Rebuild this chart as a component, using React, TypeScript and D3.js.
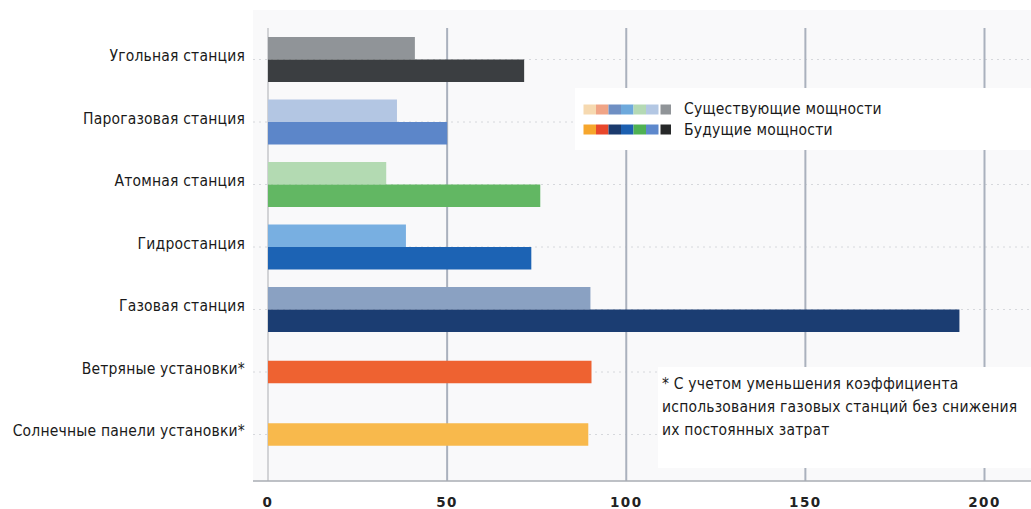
import React from "react";
import * as d3 from "d3";

const categories = [
  "Угольная станция",
  "Парогазовая станция",
  "Атомная станция",
  "Гидростанция",
  "Газовая станция",
  "Ветряные установки*",
  "Солнечные панели установки*",
];
const existingValues: (number | null)[] = [41, 36, 33, 38.5, 90, null, null];
const futureValues: number[] = [71.5, 50, 76, 73.5, 193, 90.3, 89.4];
const existingColors = ["#909498", "#b3c6e3", "#b3dab2", "#78afe1", "#8aa1c2", "#ee6231", "#f8b94c"];
const futureColors = ["#3b3e41", "#5c86c9", "#62b763", "#1c63b4", "#1b3d72", "#ee6231", "#f8b94c"];
const xTicks = [0, 50, 100, 150, 200];
const legendLabels = ["Существующие мощности", "Будущие мощности"];
const legendExisting = ["#f6d9b0", "#f0a486", "#6f8fc3", "#6ea9dc", "#b4d9b4", "#b3c7e3", "#909498"];
const legendFuture = ["#f6a62c", "#e8472b", "#1b3a6d", "#1c5fb0", "#4fb153", "#5d88cc", "#262829"];
const footnoteLines = [
  "* С учетом уменьшения коэффициента",
  "использования газовых станций без снижения",
  "их постоянных затрат",
];

const W = 1031;
const H = 509;
const labelFont = "'Liberation Sans Narrow', 'DejaVu Sans Condensed', 'Roboto Condensed', Roboto, sans-serif";
const labelSize = 15.5;
const labelSpacing = 0.2;

export default function App() {
  const x = d3.scaleLinear().domain([0, 200]).range([268, 984.5]);
  const y = d3.scaleBand<string>().domain(categories).range([28.25, 465.75]).padding(0);
  const barH = 22.5;
  const plotLeft = 253;
  const plotTop = 10;
  const axisY = 481;

  return (
    <svg width={W} height={H} style={{ position: "absolute", left: 0, top: 0 }}>
      <rect x={0} y={0} width={W} height={H} fill="#ffffff" />
      <rect x={plotLeft} y={plotTop} width={W - plotLeft} height={axisY - plotTop} fill="#f9f9fa" />
      {categories.map((c) => {
        const cy = (y(c) as number) + y.bandwidth() / 2;
        return (
          <line key={"h" + c} x1={plotLeft} x2={W} y1={cy} y2={cy} stroke="#d6d8dc" strokeWidth={1} strokeDasharray="2,4" />
        );
      })}
      {xTicks.map((t) => (
        <line
          key={"v" + t}
          x1={x(t)}
          x2={x(t)}
          y1={28}
          y2={axisY}
          stroke={t === 0 ? "#c4c6ca" : "#aab1bd"}
          strokeWidth={t === 0 ? 1.5 : 2}
        />
      ))}
      {categories.map((c, i) => {
        const cy = (y(c) as number) + y.bandwidth() / 2;
        const ev = existingValues[i];
        const fv = futureValues[i];
        if (ev == null) {
          return (
            <rect key={"b" + c} x={x(0)} y={cy - barH / 2} width={x(fv) - x(0)} height={barH} fill={futureColors[i]} />
          );
        }
        return (
          <g key={"b" + c}>
            <rect x={x(0)} y={cy - barH} width={x(ev) - x(0)} height={barH} fill={existingColors[i]} />
            <rect x={x(0)} y={cy} width={x(fv) - x(0)} height={barH} fill={futureColors[i]} />
          </g>
        );
      })}
      <line x1={plotLeft} x2={W} y1={axisY} y2={axisY} stroke="#a9adb3" strokeWidth={1.5} />
      {xTicks.map((t) => (
        <text
          key={"t" + t}
          x={x(t)}
          y={507}
          textAnchor="middle"
          fontFamily="'DejaVu Sans', sans-serif"
          fontWeight="bold"
          fontSize={13.5}
          letterSpacing={1.5}
          fill="#222"
        >
          {t}
        </text>
      ))}
      {categories.map((c) => {
        const cy = (y(c) as number) + y.bandwidth() / 2;
        return (
          <text
            key={"l" + c}
            x={245}
            y={cy - 3}
            dominantBaseline="middle"
            textAnchor="end"
            fontFamily={labelFont}
            fontSize={labelSize}
            letterSpacing={labelSpacing}
            fill="#1a1a1a"
          >
            {c}
          </text>
        );
      })}
      <rect x={575} y={88} width={W - 575} height={62} fill="#ffffff" />
      {[legendExisting, legendFuture].map((cols, r) => (
        <g key={"lg" + r}>
          {cols.map((col, k) => (
            <rect
              key={k}
              x={583.5 + k * 12.5 + (k === cols.length - 1 ? 2 : 0)}
              y={104.5 + r * 20}
              width={k === cols.length - 1 ? 10.5 : 12.5}
              height={10}
              fill={col}
            />
          ))}
          <text
            x={684}
            y={109 + r * 21}
            dominantBaseline="middle"
            fontFamily={labelFont}
            fontSize={labelSize}
            letterSpacing={labelSpacing}
            fill="#1a1a1a"
          >
            {legendLabels[r]}
          </text>
        </g>
      ))}
      <rect x={658} y={367} width={W - 658} height={101} fill="#ffffff" />
      {footnoteLines.map((ln, k) => (
        <text
          key={"f" + k}
          x={662}
          y={384 + k * 23}
          dominantBaseline="middle"
          fontFamily={labelFont}
          fontSize={labelSize}
          letterSpacing={labelSpacing}
          fill="#1a1a1a"
        >
          {ln}
        </text>
      ))}
    </svg>
  );
}
